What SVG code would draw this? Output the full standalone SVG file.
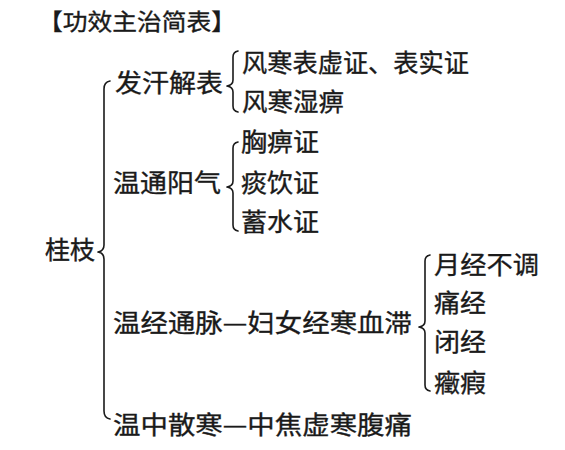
<svg xmlns="http://www.w3.org/2000/svg" width="565" height="450" viewBox="0 0 565 450">
<style>
text{font-family:"Noto Sans CJK SC","Noto Sans",sans-serif;fill:#1a1a1a;stroke:#1a1a1a;stroke-width:0.35;font-size:25px}
.t{font-size:23px}
.br{fill:none;stroke:#1a1a1a;stroke-width:1.6;stroke-linecap:round;stroke-linejoin:round}
</style>
<rect width="565" height="450" fill="#ffffff"/>
<g id="title"><text class="t" x="38" y="30" textLength="198" lengthAdjust="spacingAndGlyphs">【功效主治简表】</text></g>
<g id="connectors">
<path class="br" d="M110,81 Q104,82 104,89 L104,245 Q104,251 98,252 Q104,253 104,259 L104,411 Q104,418 110,419"/>
<path class="br" d="M238,51 Q233,52 233,57 L233,80 Q233,85 227,86 Q233,87 233,92 L233,106 Q233,111 238,112"/>
<path class="br" d="M238,142 Q233,143 233,148 L233,181 Q233,186 227,187 Q233,188 233,193 L233,225 Q233,230 238,231"/>
<path class="br" d="M430,255 Q425,256 425,261 L425,321 Q425,326 419,327 Q425,328 425,333 L425,385 Q425,390 430,391"/>
</g>
<g id="guizhi"><text x="45" y="259" textLength="50" lengthAdjust="spacingAndGlyphs">桂枝</text></g>
<g id="fahan"><text x="115" y="92" textLength="108" lengthAdjust="spacingAndGlyphs">发汗解表</text></g>
<g id="fenghan1"><text x="242" y="72" textLength="227" lengthAdjust="spacingAndGlyphs">风寒表虚证、表实证</text></g>
<g id="fenghan2"><text x="242" y="111" textLength="102" lengthAdjust="spacingAndGlyphs">风寒湿痹</text></g>
<g id="wentong"><text x="113" y="192" textLength="108" lengthAdjust="spacingAndGlyphs">温通阳气</text></g>
<g id="xiongbi"><text x="241" y="151" textLength="78" lengthAdjust="spacingAndGlyphs">胸痹证</text></g>
<g id="tanyin"><text x="241" y="192" textLength="78" lengthAdjust="spacingAndGlyphs">痰饮证</text></g>
<g id="xushui"><text x="241" y="231" textLength="78" lengthAdjust="spacingAndGlyphs">蓄水证</text></g>
<g id="wenjing"><text x="113" y="332" textLength="299" lengthAdjust="spacingAndGlyphs">温经通脉—妇女经寒血滞</text></g>
<g id="yuejing"><text x="434" y="274" textLength="105" lengthAdjust="spacingAndGlyphs">月经不调</text></g>
<g id="tongjing"><text x="434" y="312" textLength="52" lengthAdjust="spacingAndGlyphs">痛经</text></g>
<g id="bijing"><text x="434" y="351" textLength="52" lengthAdjust="spacingAndGlyphs">闭经</text></g>
<g id="zhengjia"><text x="434" y="392" textLength="52" lengthAdjust="spacingAndGlyphs">癥瘕</text></g>
<g id="wenzhong"><text x="113" y="434" textLength="299" lengthAdjust="spacingAndGlyphs">温中散寒—中焦虚寒腹痛</text></g>
</svg>
